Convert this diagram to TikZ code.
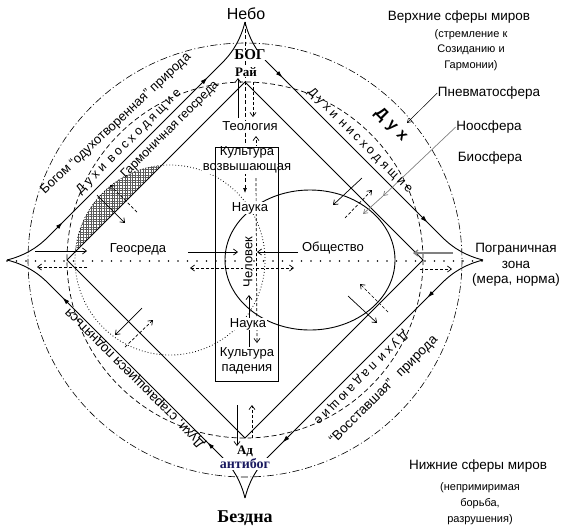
\documentclass[tikz,border=0pt]{standalone}
\usepackage{fontspec}
\setmainfont{Liberation Sans}
\newfontfamily\oldser{Liberation Serif}
\usetikzlibrary{arrows.meta,decorations.markings,patterns.meta}
\definecolor{navy}{RGB}{25,25,95}
\begin{document}
\begin{tikzpicture}[x=1pt,y=-1pt,
  lab/.style={font=\fontsize{13.5}{15.5}\selectfont, inner sep=0.5pt, align=center},
  mid/.style={font=\fontsize{13}{14.5}\selectfont, inner sep=0.5pt, align=center},
  sm/.style={font=\fontsize{11}{16}\selectfont, inner sep=0.5pt, align=center},
  ser/.style={font=\oldser\bfseries\fontsize{#1}{#1}\selectfont, inner sep=0.5pt},
  sp/.style={font=\fontsize{12.5}{14}\selectfont\addfontfeature{LetterSpace=25}, inner sep=0pt},
  diag/.style={font=\fontsize{#1}{14}\selectfont, inner sep=0pt},
  wf/.style={fill=white},
  sarr/.style={line width=0.7pt, -{Straight Barb[length=4pt,width=6pt]}},
  darr/.style={sarr, dash pattern=on 3pt off 2pt},
  starline/.style={line width=0.9pt, postaction={decorate}, decoration={markings,
     mark=at position 0.2 with {\arrow{Latex[length=7pt,width=4.5pt]}},
     mark=at position 0.8 with {\arrow{Latex[length=7pt,width=4.5pt]}}}},
  dashc/.style={line width=0.7pt, dash pattern=on 5pt off 3pt},
  dashdot/.style={line width=0.6pt, dash pattern=on 7pt off 2.5pt on 1pt off 2.5pt},
  dotc/.style={line width=0.8pt, dash pattern=on 0.8pt off 2.2pt},
]
\useasboundingbox (0,0) rectangle (570,531);

% hatched lens
\begin{scope}
  \clip (0,0) -- (245,0) -- (245,82) -- (67,260) -- (0,260) -- cycle;
  \fill[pattern={Lines[angle=0,distance=2.6pt,line width=0.35pt]}, pattern color=black!65] (170,260) circle[radius=95];
  \fill[pattern={Lines[angle=90,distance=2.6pt,line width=0.35pt]}, pattern color=black!65] (170,260) circle[radius=95];
\end{scope}

% spheres
\draw[dashdot] (245,260) circle[radius=217];
\draw[dashc] (245,260) circle[radius=178];
\draw[dotc] (170,260) circle[radius=95];
\draw[line width=0.9pt] (310,260) ellipse[x radius=85, y radius=70];

% horizontal big dotted axis
\draw[line width=1.8pt, line cap=round, dash pattern=on 0pt off 9.5pt] (7,261) -- (483,261);

% outer star
\draw[starline] (7,260) .. controls (23,256) and (36,249) .. (48,237) -- (222,63) .. controls (234,51) and (241,38) .. (245,22);
\draw[starline] (245,22) .. controls (249,38) and (256,51) .. (268,63) -- (442,237) .. controls (454,249) and (467,256) .. (483,260);
\draw[starline] (483,260) .. controls (467,264) and (454,271) .. (442,283) -- (268,457) .. controls (256,469) and (249,482) .. (245,498);
\draw[starline] (245,498) .. controls (241,482) and (234,469) .. (222,457) -- (48,283) .. controls (36,271) and (23,264) .. (7,260);

% inner diamond
\draw[line width=0.9pt] (245,82) -- (423,260) -- (245,438) -- (67,260) -- cycle;

% central vertical axis
\draw[line width=0.7pt, dash pattern=on 4pt off 2.5pt, -{Latex[length=5pt,width=4pt]}] (245,22) -- (245,193);

% vertical arrows
\draw[sarr] (238,118) -- (238,78);
\draw[darr] (253,82) -- (253,117);
\draw[darr] (256,148) -- (256,136);
\draw[darr] (256,178) -- (257,343);
\draw[sarr] (249,348) -- (249,295);
\draw[sarr] (237,405) -- (237,446);
\draw[darr] (252,438) -- (252,405);

% horizontal arrows
\draw[sarr] (35,251) -- (87,251);
\draw[darr] (87,267) -- (37,267);
\draw[sarr] (188,252) -- (238,252);
\draw[darr, {Straight Barb[length=4pt,width=6pt]}-{Straight Barb[length=4pt,width=6pt]}] (190,268) -- (294,268);
\draw[sarr] (298,252) -- (257,252);
\draw[sarr, gray, line width=1.3pt] (453,253) -- (413,253);
\draw[darr] (420,269) -- (452,269);

% arrows across the diamond edges
\draw[sarr] (97,195) -- (125,223);
\draw[darr] (137,212) -- (110,185);
\draw[sarr] (142,308) -- (115,335);
\draw[darr] (125,347) -- (153,320);
\draw[sarr] (362,178) -- (333,205);
\draw[darr] (345,218) -- (372,190);
\draw[sarr] (348,296) -- (377,323);
\draw[darr] (388,312) -- (360,284);

% central texts
\node[font=\fontsize{16}{18}\selectfont, inner sep=0.5pt] (nebo) at (246,14) {Небо};
\node[ser=15, wf, inner sep=0pt] (bog) at (250,55) {БОГ};
\node[ser=13, wf, inner sep=0pt] (rai) at (246,72) {Рай};
\node[mid, wf] (teo) at (250,126) {Теология};
\node[mid, wf] (kv) at (247,160) {Культура\\возвышающая};
\node[mid, wf] (nauka1) at (250,208) {Наука};
\node[mid, wf, rotate=90] (chel) at (248,262) {Человек};
\node[mid, wf] (nauka2) at (248,324) {Наука};
\node[mid, wf] (kp) at (247,361) {Культура\\падения};
\node[mid] (geo) at (138,249) {Геосреда};
\node[mid] (obsh) at (333,248) {Общество};
\node[ser=13] (ad) at (245,451) {Ад};
\node[ser=14, text=navy, wf, inner sep=1pt] (anti) at (245,464) {антибог};
\node[ser=18] (bezdna) at (245,518) {Бездна};

% box of culture
\draw[line width=0.9pt] (215,147) rectangle (278,381);

% right labels
\node[lab] (verh) at (459,17) {Верхние сферы миров};
\node[sm, font=\fontsize{11}{15.5}\selectfont] (verh2) at (471,50) {(стремление к\\Созиданию и\\Гармонии)};
\node[lab] (pnev) at (489,93) {Пневматосфера};
\node[lab] (noo) at (489,127) {Ноосфера};
\node[lab] (bio) at (490,158) {Биосфера};
\node[lab] (pogr) at (516,265) {Пограничная\\зона\\(мера, норма)};
\node[lab] (nizh) at (478,466) {Нижние сферы миров};
\node[sm] (nizh2) at (480,504) {(непримиримая\\борьба,\\разрушения)};

% pointers
\coordinate (pnevP) at (407,123);
\coordinate (nooP) at (383,196);
\coordinate (nooQ) at (363,214);
\draw[line width=0.5pt, -{Straight Barb[length=4pt,width=5pt]}] (pnev.west) -- (pnevP);
\draw[gray, line width=0.7pt, -{Straight Barb[length=4pt,width=5pt]}] (noo.west) -- (nooP);
\draw[gray, line width=0.7pt, -{Straight Barb[length=4pt,width=5pt]}] (nooP) -- (nooQ);

% diagonal texts
\node[diag=13, rotate=43] (bogom) at (116,124) {Богом “одухотворенная” природа};
\node[sp, rotate=45] (dvos) at (129,142) {Духи\hspace{6pt}восходящие};
\node[diag=12.5, rotate=45] (garm) at (170,130) {Гармоничная геосреда};
\node[sp, rotate=-45] (dnis) at (360,141) {Духи\hspace{6pt}нисходящие};
\node[font=\bfseries\fontsize{16}{18}\selectfont\addfontfeature{LetterSpace=30}, inner sep=0pt, rotate=-45] (duh) at (391,125) {Дух};
\node[sp, rotate=225] (dpad) at (361,378) {Духи\hspace{6pt}падающие};
\node[diag=13.5, rotate=45] (vosst) at (384,390) {“Восставшая”\hspace{9pt}природа};
\node[diag=13.5, rotate=135] (dstar) at (135,378) {Духи, старающиеся подняться};
\end{tikzpicture}
\end{document}
